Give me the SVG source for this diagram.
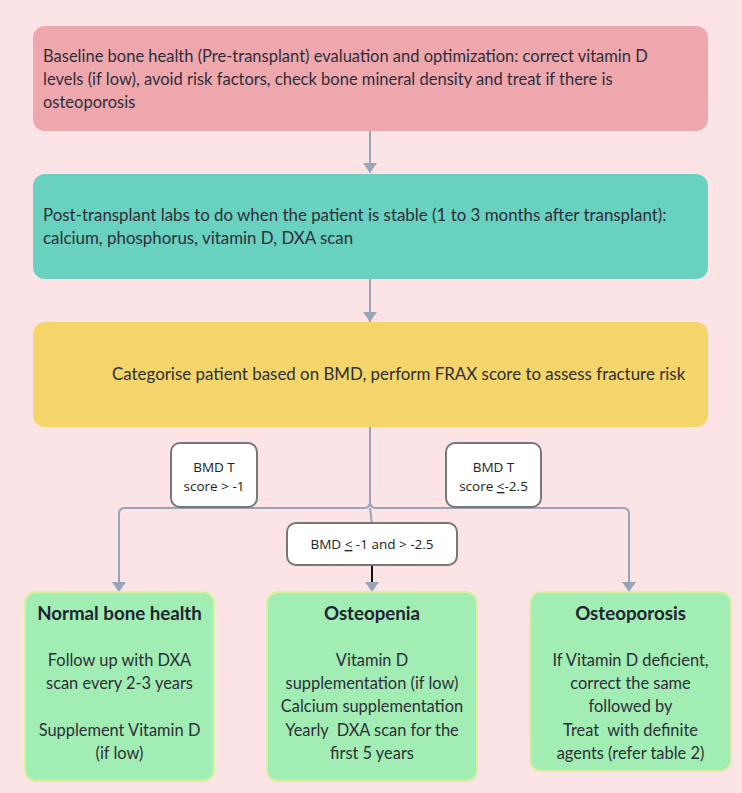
<svg xmlns="http://www.w3.org/2000/svg" width="742" height="793" viewBox="0 0 742 793">
<style>
.t{font-family:Lato,"Liberation Sans",sans-serif;font-size:16.5px;fill:#2e2e38}
.t2{font-family:Lato,"Liberation Sans",sans-serif;font-size:16.9px;fill:#2e2e38}
.h{font-family:Lato,"Liberation Sans",sans-serif;font-size:18.7px;font-weight:bold;fill:#1f2433;text-anchor:middle}
.b{font-family:Lato,"Liberation Sans",sans-serif;font-size:16.4px;fill:#2e2e38;text-anchor:middle}
.l{font-family:"Open Sans","Noto Sans",sans-serif;font-size:13.5px;fill:#222;text-anchor:middle}
.lb{fill:#fff;stroke:#777;stroke-width:2}
.g{fill:#a1edb4;stroke:#d9f0a3;stroke-width:2}
.cn{fill:none;stroke:#98a4b8;stroke-width:2}
</style>
<defs>
<marker id="ah" markerUnits="userSpaceOnUse" markerWidth="10" markerHeight="14" viewBox="0 0 10 14" refX="10" refY="7" orient="auto">
<path d="M0,0 L10,7 L0,14 z" fill="#98a4b8"/>
</marker>
</defs>
<rect x="0" y="0" width="742" height="793" fill="#fce4e6"/>
<g id="connectors">
<path class="cn" d="M370,131 V173" marker-end="url(#ah)"/>
<path class="cn" d="M370,279 V322" marker-end="url(#ah)"/>
<path class="cn" d="M370,427 V502 Q370,508 364,508 H125 Q119,508 119,514 V592" marker-end="url(#ah)"/>
<path class="cn" d="M370,502 Q370,508 376,508 H623 Q629,508 629,514 V592" marker-end="url(#ah)"/>
<path class="cn" d="M370,508 L372,524"/>
<path fill="none" stroke="#111" stroke-width="2" d="M372,565 V584"/>
<path d="M365,582 L379,582 L372,592 z" fill="#98a4b8"/>
</g>
<g id="baseline">
<rect x="33" y="26" width="675" height="105" rx="12" fill="#efa7ae"/>
<text class="t" x="43" y="62">Baseline bone health (Pre-transplant) evaluation and optimization: correct vitamin D</text>
<text class="t" x="43" y="85">levels (if low), avoid risk factors, check bone mineral density and treat if there is</text>
<text class="t" x="43" y="108">osteoporosis</text>
</g>
<g id="posttransplant">
<rect x="33" y="174" width="675" height="105" rx="12" fill="#68d1c0"/>
<text class="t2" x="43" y="221">Post-transplant labs to do when the patient is stable (1 to 3 months after transplant):</text>
<text class="t2" x="43" y="244">calcium, phosphorus, vitamin D, DXA scan</text>
</g>
<g id="categorise">
<rect x="33" y="322" width="675" height="105" rx="12" fill="#f4d56a"/>
<text class="t2" x="112" y="380">Categorise patient based on BMD, perform FRAX score to assess fracture risk</text>
</g>
<g id="label-normal">
<rect class="lb" x="171" y="443" width="86" height="64" rx="9"/>
<text class="l" x="214" y="472">BMD T</text>
<text class="l" x="214" y="491">score &gt; -1</text>
</g>
<g id="label-osteoporosis">
<rect class="lb" x="446" y="443" width="95" height="64" rx="9"/>
<text class="l" x="493.5" y="472">BMD T</text>
<text class="l" x="493.5" y="491">score <tspan text-decoration="underline">&lt;</tspan>-2.5</text>
</g>
<g id="label-osteopenia">
<rect class="lb" x="287" y="523" width="170" height="42" rx="9"/>
<text class="l" x="372" y="549">BMD <tspan text-decoration="underline">&lt;</tspan> -1 and &gt; -2.5</text>
</g>
<g id="normal">
<rect class="g" x="25" y="592" width="189" height="189" rx="11"/>
<text class="h" x="119.5" y="620">Normal bone health</text>
<text class="b" x="119.5" y="666">Follow up with DXA</text>
<text class="b" x="119.5" y="689">scan every 2-3 years</text>
<text class="b" x="119.5" y="736">Supplement Vitamin D</text>
<text class="b" x="119.5" y="759">(if low)</text>
</g>
<g id="osteopenia">
<rect class="g" x="267" y="592" width="210" height="189" rx="11"/>
<text class="h" x="372" y="620">Osteopenia</text>
<text class="b" x="372" y="666">Vitamin D</text>
<text class="b" x="372" y="689">supplementation (if low)</text>
<text class="b" x="372" y="712">Calcium supplementation</text>
<text class="b" x="372" y="736" xml:space="preserve">Yearly  DXA scan for the</text>
<text class="b" x="372" y="759">first 5 years</text>
</g>
<g id="osteoporosis">
<rect class="g" x="530" y="592" width="201" height="179" rx="11"/>
<text class="h" x="630.5" y="620">Osteoporosis</text>
<text class="b" x="630.5" y="666">If Vitamin D deficient,</text>
<text class="b" x="630.5" y="689">correct the same</text>
<text class="b" x="630.5" y="712">followed by</text>
<text class="b" x="630.5" y="736" xml:space="preserve">Treat  with definite</text>
<text class="b" x="630.5" y="759">agents (refer table 2)</text>
</g>
</svg>
